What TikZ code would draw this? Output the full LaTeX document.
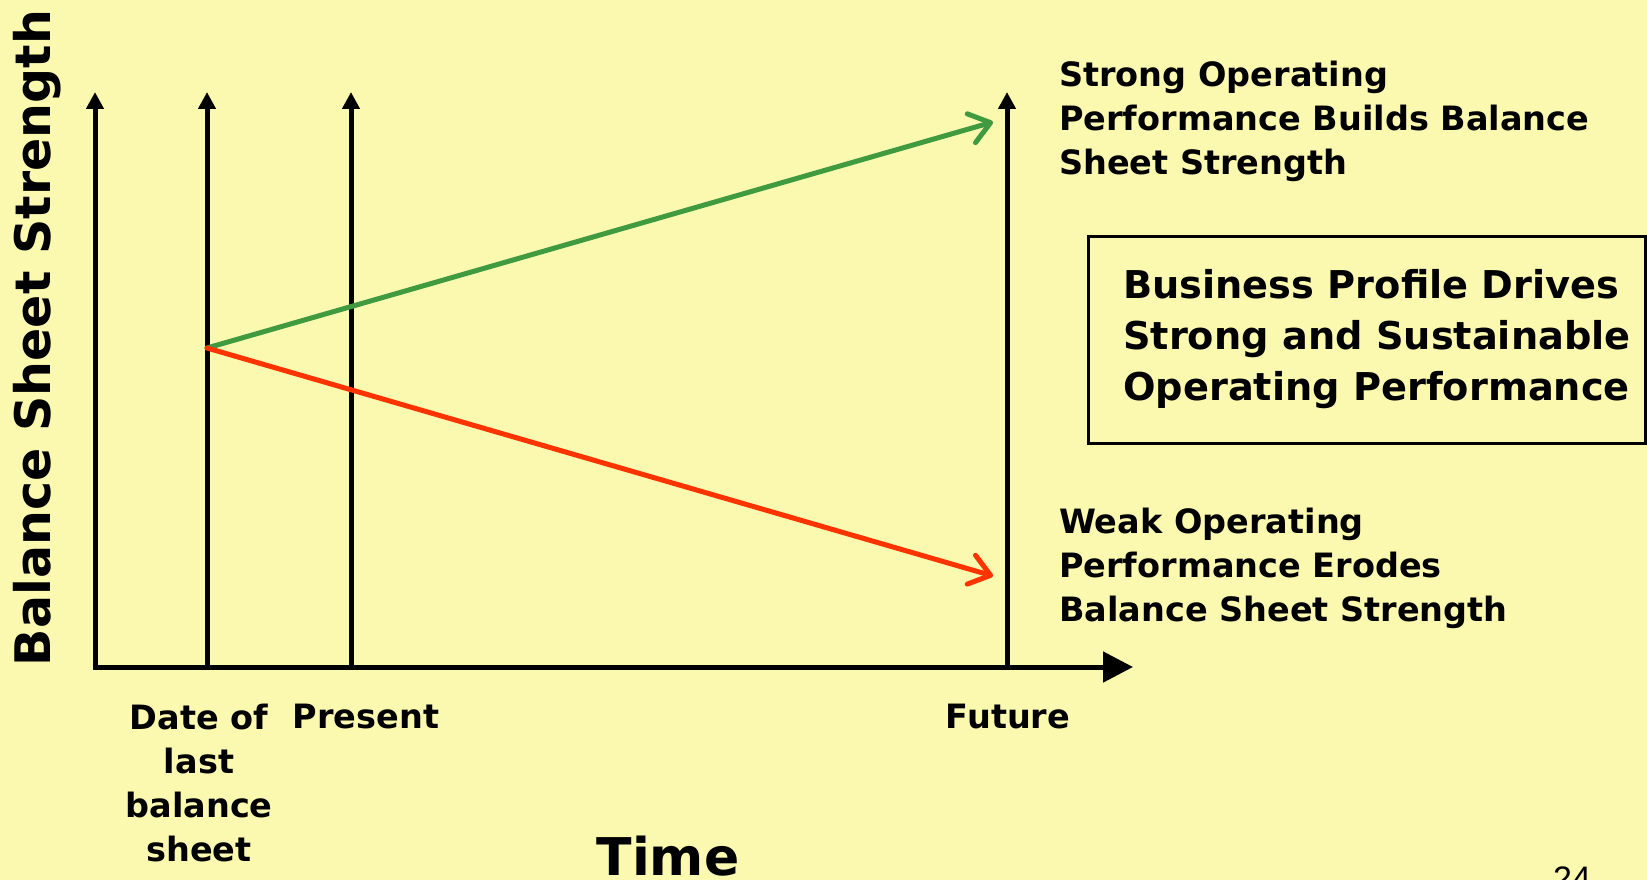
\documentclass[tikz,border=0pt]{standalone}
\usepackage{fontspec}
\setmainfont{DejaVu Sans}
\newfontfamily\pagenumfont{Liberation Sans}
\usetikzlibrary{arrows.meta}
\definecolor{slidebg}{RGB}{251,248,176}
\definecolor{upgreen}{RGB}{64,155,64}
\definecolor{downred}{RGB}{255,51,0}
\begin{document}
\begin{tikzpicture}[x=1pt,y=-1pt,
  axis/.style={line width=5pt,-{Triangle[width=17pt,length=17pt]}},
  timeaxis/.style={line width=5pt,-{Triangle[width=30pt,length=30pt]}},
  trend/.style={line width=5pt,line cap=round,-{Straight Barb[length=20pt,width=30pt,line cap=round,line join=round]}},
  lbl/.style={font=\fontsize{33.5}{44}\selectfont\bfseries,inner sep=0pt},
  boxtxt/.style={font=\fontsize{38.3}{51}\selectfont\bfseries,inner sep=0pt}]
% page and frame
\fill[slidebg] (0,0) rectangle (1647,880);
\useasboundingbox (0,0) rectangle (1647,880);
% axes
\coordinate (o) at (95,667);
\coordinate (xend) at (1133,667);
\coordinate (y0top) at (95,92);
\coordinate (d0) at (207,667);
\coordinate (d0top) at (207,92);
\coordinate (p0) at (351,667);
\coordinate (p0top) at (351,92);
\coordinate (f0) at (1007,667);
\coordinate (f0top) at (1007,92);
\draw[axis] (o) -- (y0top);
\draw[axis] (d0) -- (d0top);
\draw[axis] (p0) -- (p0top);
\draw[axis] (f0) -- (f0top);
\draw[timeaxis] ([xshift=-2.5pt]o) -- (xend);
% trend lines
\coordinate (start) at (207,348);
\coordinate (up) at (993,122);
\coordinate (down) at (993,576);
\draw[trend,upgreen] (start) -- (up);
\draw[trend,downred] (start) -- (down);
% labels
\node[lbl,anchor=west,align=left] (strong) at (1059,121) {Strong Operating\\Performance Builds Balance\\Sheet Strength};
\node[lbl,anchor=west,align=left] (weak) at (1059,568) {Weak Operating\\Performance Erodes\\Balance Sheet Strength};
\node[draw,line width=3pt,minimum width=557pt,minimum height=207pt,anchor=north west,inner sep=0pt] (box) at (1087,235) {};
\node[boxtxt,anchor=west,align=left] (boxtext) at (1123,339) {Business Profile Drives\\Strong and Sustainable\\Operating Performance};
\node[lbl,align=center] (lastbs) at (199,783) {Date of\\last\\balance\\sheet};
\node[lbl] (present) at (366,717) {Present};
\node[lbl] (future) at (1008,717) {Future};
\node[font=\fontsize{52}{60}\selectfont\bfseries,inner sep=0pt] (time) at (668,856) {Time};
\node[font=\fontsize{49}{56}\selectfont\bfseries,inner sep=0pt,rotate=90] (ylabel) at (37,338) {Balance Sheet Strength};
\node[font=\fontsize{34}{40}\selectfont\pagenumfont,inner sep=0pt,anchor=base] (pagenum) at (1572,890) {24};
\end{tikzpicture}
\end{document}
